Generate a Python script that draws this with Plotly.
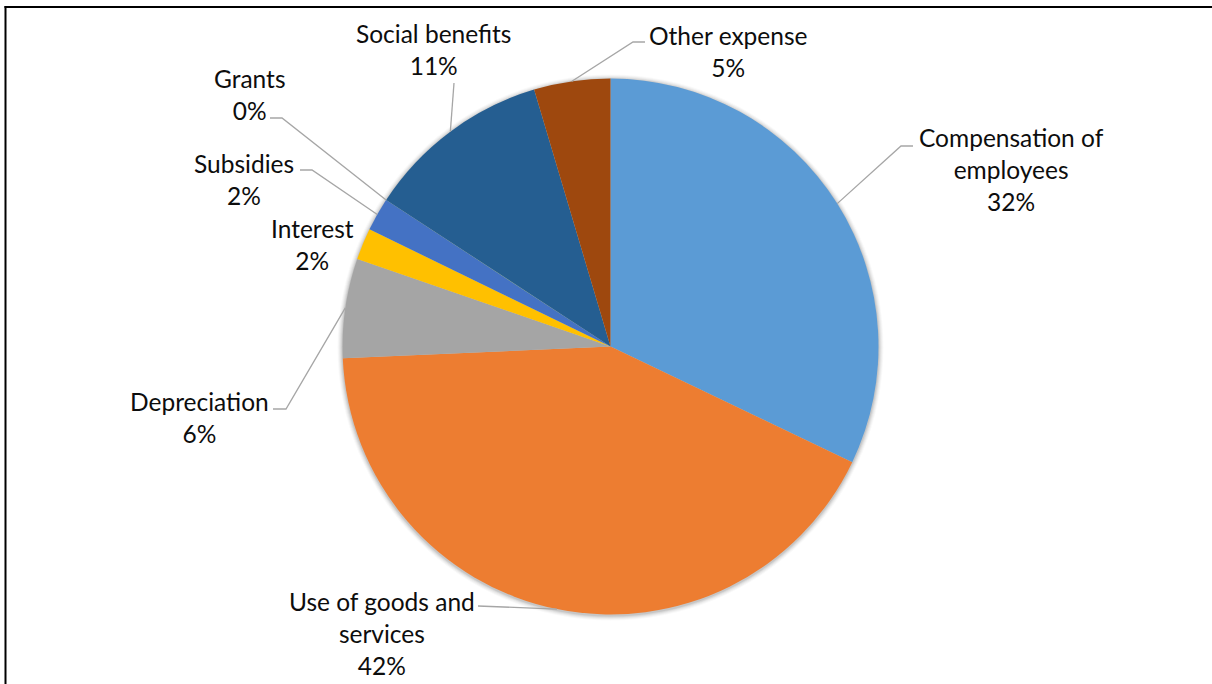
import math
import plotly.graph_objects as go

# Expense categories, in clockwise order from 12 o'clock
categories = [
    "Compensation of employees",
    "Use of goods and services",
    "Depreciation",
    "Interest",
    "Subsidies",
    "Grants",
    "Social benefits",
    "Other expense",
]
shares = [32.1, 42.2, 6.0, 1.9, 2.0, 0.01, 11.19, 4.6]
label_text = [
    "Compensation of<br>employees",
    "Use of goods and<br>services",
    "Depreciation",
    "Interest",
    "Subsidies",
    "Grants",
    "Social benefits",
    "Other expense",
]
colors = ["#5B9BD5", "#ED7D31", "#A5A5A5", "#FFC000",
          "#4472C4", "#70AD47", "#255E91", "#9E480E"]

W, H = 1212, 684
CX, CY, R = 610.5, 346.5, 268.0

# label block centres (px) and leader-line elbows (px, None = no leader)
label_pos = [(1011, 170), (382, 633), (199, 417), (312, 245),
             (244, 179), (250, 95), (433, 49), (728, 51)]
elbows = [
    [(913, 146), (901, 146)],
    [(478, 606)],
    [(273, 409), (286, 409)],
    None,
    [(300, 170), (312, 170)],
    [(270, 118), (282, 118)],
    [(454, 83)],
    [(645, 42), (633, 42)],
]


def px(x):
    return x / W


def py(y):
    return 1 - y / H


total = sum(shares)
pct = [round(100 * v / total) for v in shares]

fig = go.Figure(go.Pie(
    labels=categories,
    values=shares,
    sort=False,
    direction="clockwise",
    rotation=0,
    marker=dict(colors=colors, line=dict(width=0)),
    textinfo="none",
    hoverinfo="skip",
    showlegend=False,
    domain=dict(x=[px(CX - R), px(CX + R)], y=[py(CY + R), py(CY - R)]),
))

shapes = []
# soft edge shadow around the pie
for k, a in [(5, 0.025), (4, 0.035), (3, 0.045), (2, 0.06), (1, 0.08)]:
    shapes.append(dict(type="circle", xref="paper", yref="paper", layer="below",
                       x0=px(CX - R - k), x1=px(CX + R + k),
                       y0=py(CY + R + k + 1), y1=py(CY - R - k + 1),
                       fillcolor=f"rgba(0,0,0,{a})", line=dict(width=0)))

# leader lines: from the slice's mid-angle on the rim to the label elbow
cum = 0.0
for i, v in enumerate(shares):
    mid = (cum + v / 2) / total * 2 * math.pi
    cum += v
    if elbows[i] is None:
        continue
    ex = CX + R * math.sin(mid)
    ey = CY - R * math.cos(mid)
    pts = elbows[i] + [(ex, ey)]
    path = "M " + " L ".join(f"{px(x):.5f},{py(y):.5f}" for x, y in pts)
    shapes.append(dict(type="path", xref="paper", yref="paper", path=path,
                       line=dict(color="#A6A6A6", width=1.3)))

# frame on the left and top
shapes.append(dict(type="line", xref="paper", yref="paper",
                   x0=px(5.5), x1=px(5.5), y0=py(6), y1=py(H + 2),
                   line=dict(color="black", width=2)))
shapes.append(dict(type="line", xref="paper", yref="paper",
                   x0=px(4.5), x1=px(W + 2), y0=py(7), y1=py(7),
                   line=dict(color="black", width=2)))

annotations = []
for i, (lx, ly) in enumerate(label_pos):
    annotations.append(dict(
        x=px(lx), y=py(ly), xref="paper", yref="paper",
        xanchor="center", yanchor="middle", showarrow=False,
        text=f"{label_text[i]}<br>{pct[i]}%", align="center",
        font=dict(family="Lato", size=24.5, color="#0d0d0d"),
    ))

fig.update_layout(
    width=W, height=H,
    margin=dict(l=0, r=0, t=0, b=0),
    paper_bgcolor="white",
    plot_bgcolor="white",
    shapes=shapes,
    annotations=annotations,
)

fig.write_html("out.html")
